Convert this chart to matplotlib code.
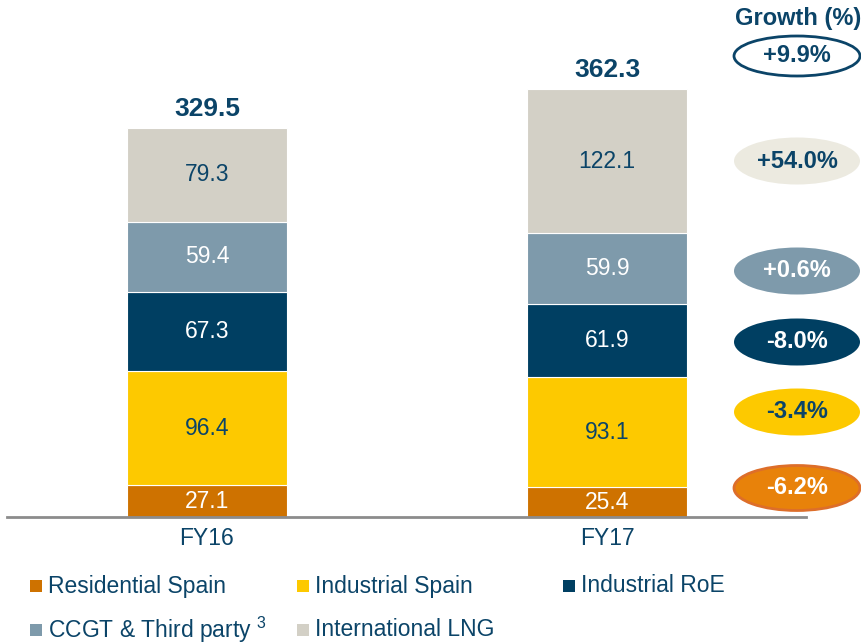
import matplotlib
matplotlib.use("Agg")
import matplotlib.pyplot as plt
from matplotlib.patches import Ellipse, Rectangle

plt.rcParams['font.family'] = ['Liberation Sans', 'DejaVu Sans']
plt.rcParams['mathtext.fontset'] = 'custom'
plt.rcParams['mathtext.rm'] = 'Liberation Sans'

categories = ["FY16", "FY17"]
series_names = ["Residential Spain", "Industrial Spain", "Industrial RoE",
                "CCGT & Third party", "International LNG"]
residential_spain = [27.1, 25.4]
industrial_spain = [96.4, 93.1]
industrial_roe = [67.3, 61.9]
ccgt_third_party = [59.4, 59.9]
international_lng = [79.3, 122.1]
totals = [329.5, 362.3]
growth_labels = ["+9.9%", "+54.0%", "+0.6%", "-8.0%", "-3.4%", "-6.2%"]

NAVY = "#0B4468"
colors = ["#CE7200", "#FDC900", "#003F62", "#7E9AAB", "#D3D0C6"]
label_colors = ["white", NAVY, "white", "white", NAVY]

W, H = 862, 644
fig = plt.figure(figsize=(W / 100, H / 100), dpi=100)
ax_left, ax_right, base = 7, 806, 517
ax = fig.add_axes([ax_left / W, (H - base) / H, (ax_right - ax_left) / W, base / H])

series = [residential_spain, industrial_spain, industrial_roe, ccgt_third_party, international_lng]
x = [0, 1]
bottoms = [0.0, 0.0]
for vals, col, lc in zip(series, colors, label_colors):
    ax.bar(x, vals, width=0.4, bottom=bottoms, color=col, edgecolor="white", linewidth=0.8, zorder=2)
    for xi, v, b in zip(x, vals, bottoms):
        ax.text(xi, b + v / 2, f"{v:.1f}", ha="center", va="center", color=lc, fontsize=16.5, zorder=3)
    bottoms = [b + v for b, v in zip(bottoms, vals)]

for xi, t in zip(x, totals):
    ax.text(xi, t + 6, f"{t:.1f}", ha="center", va="bottom", color=NAVY, fontsize=19, fontweight="bold")

ax.set_xlim(-0.5, 1.4975)
ax.set_ylim(0, 438.1)
ax.set_xticks(x)
ax.set_xticklabels(categories, color=NAVY, fontsize=16.5)
ax.tick_params(axis="x", length=0, pad=7)
ax.set_yticks([])
for s in ["top", "left", "right"]:
    ax.spines[s].set_visible(False)
ax.spines["bottom"].set_color("#8C8C8C")
ax.spines["bottom"].set_linewidth(2)
ax.patch.set_alpha(0)

# Growth column
fig.text(798 / W, 1 - 19 / H, "Growth (%)", ha="center", va="center", color=NAVY,
         fontsize=17, fontweight="bold")
ell_y = [56, 161, 271, 342, 412, 488]
ell_face = ["white", "#ECEAE0", "#7E9AAB", "#003F62", "#FDC900", "#E8820A"]
ell_edge = [NAVY, "#ECEAE0", "#7E9AAB", "#003F62", "#FDC900", "#DD6E2A"]
ell_txt = [NAVY, NAVY, "white", "white", NAVY, "white"]
ell_lw = [2, 0, 0, 0, 0, 2]
ell_h = [40, 47, 47, 47, 47, 45]
for lab, yy, fc, ec, tc, lw, eh in zip(growth_labels, ell_y, ell_face, ell_edge, ell_txt, ell_lw, ell_h):
    e = Ellipse((797 / W, 1 - yy / H), 126 / W, eh / H, transform=fig.transFigure,
                facecolor=fc, edgecolor=ec, linewidth=lw, zorder=5)
    fig.patches.append(e)
    fig.text(797 / W, 1 - yy / H, lab, ha="center", va="center", color=tc,
             fontsize=17, fontweight="bold", zorder=6)

# Legend
leg_pos = [(30, 586), (297, 586), (563, 586), (30, 630), (297, 630)]
leg_text = ["Residential Spain", "Industrial Spain", "Industrial RoE",
            "CCGT & Third party $^{3}$", "International LNG"]
for (lx, ly), txt, col in zip(leg_pos, leg_text, colors):
    r = Rectangle((lx / W, 1 - (ly + 6) / H), 12 / W, 12 / H, transform=fig.transFigure,
                  facecolor=col, edgecolor="none")
    fig.patches.append(r)
    fig.text((lx + 18) / W, 1 - ly / H, txt, ha="left", va="center", color=NAVY, fontsize=16.5)

fig.savefig("out.png", dpi=100)
